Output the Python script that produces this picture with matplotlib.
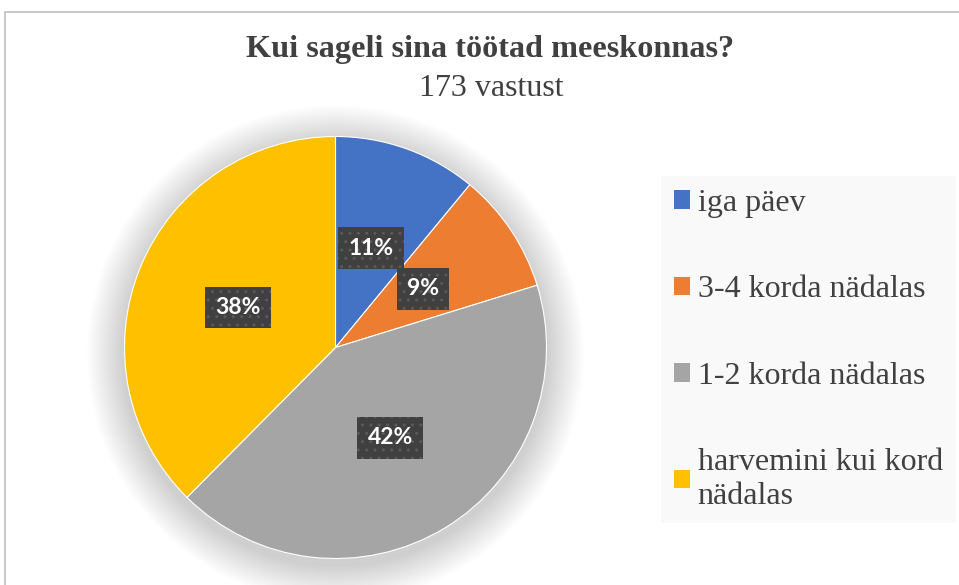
import matplotlib.pyplot as plt
from matplotlib.patches import Circle, Rectangle

# data
categories = ["iga päev", "3-4 korda nädalas", "1-2 korda nädalas", "harvemini kui kord\nnädalas"]
counts = [19, 16, 73, 65]
colors = ["#4472C4", "#ED7D31", "#A5A5A5", "#FFC000"]
title = "Kui sageli sina töötad meeskonnas?"
subtitle = "173 vastust"

W, H = 959, 585
fig = plt.figure(figsize=(W / 100, H / 100), dpi=100)
fig.patch.set_facecolor("white")

# outer chart border (left and top visible)
fig.add_artist(Rectangle((5 / W, -0.1), 1.2, 1 - 12 / H + 0.1, transform=fig.transFigure,
                         fill=False, edgecolor="#BFBFBF", linewidth=1.2))

# pie axes, a bit bigger than the pie so the shadow is not cut
cx, cy, r = 335.5, 347.5, 211
k = 1.25
ax = fig.add_axes([(cx - r * k) / W, 1 - (cy + r * k) / H, 2 * r * k / W, 2 * r * k / H])
ax.axis("off")

# soft shadow behind the pie
for i in range(16):
    ax.add_patch(Circle((0.0, -0.03), 1.0 + 0.011 * (16 - i), color="black",
                        alpha=0.01, linewidth=0, zorder=0))

wedges, texts, autotexts = ax.pie(
    counts, colors=colors, startangle=90, counterclock=False, radius=1,
    autopct=lambda p: f"{p:.0f}%", pctdistance=0.5,
    wedgeprops=dict(linewidth=0.8, edgecolor="white"),
    textprops=dict(color="white", fontsize=16.5, fontweight="bold", family="Lato"),
)
ax.set_xlim(-k, k)
ax.set_ylim(-k, k)
for t in autotexts:
    t.set_bbox(dict(boxstyle="square,pad=0.45", facecolor="#404040", edgecolor="#5A5A5A",
                    linewidth=0, hatch=".."))

# titles
fig.text(490 / W, 1 - 50 / H, title, ha="center", va="center", fontsize=23.2,
         fontweight="bold", family="Liberation Serif", color="#404040")
fig.text(491 / W, 1 - 88 / H, subtitle, ha="center", va="center", fontsize=23,
         family="Liberation Serif", color="#404040")

# legend
leg = fig.legend(wedges, categories, loc="upper left", bbox_to_anchor=(661 / W, 1 - 176 / H),
                 frameon=True, fancybox=False, prop=dict(family="Liberation Serif", size=23),
                 labelspacing=1.8, handlelength=0.5, handleheight=0.5, handletextpad=0.25,
                 borderpad=0.4, borderaxespad=0)
leg.get_frame().set_facecolor("#F8F8F8")
leg.get_frame().set_edgecolor("none")
for t in leg.get_texts():
    t.set_color("#404040")
    t.set_linespacing(1.2)
for h in leg.legend_handles:
    h.set_edgecolor("none")

fig.savefig("out.png", dpi=100)
